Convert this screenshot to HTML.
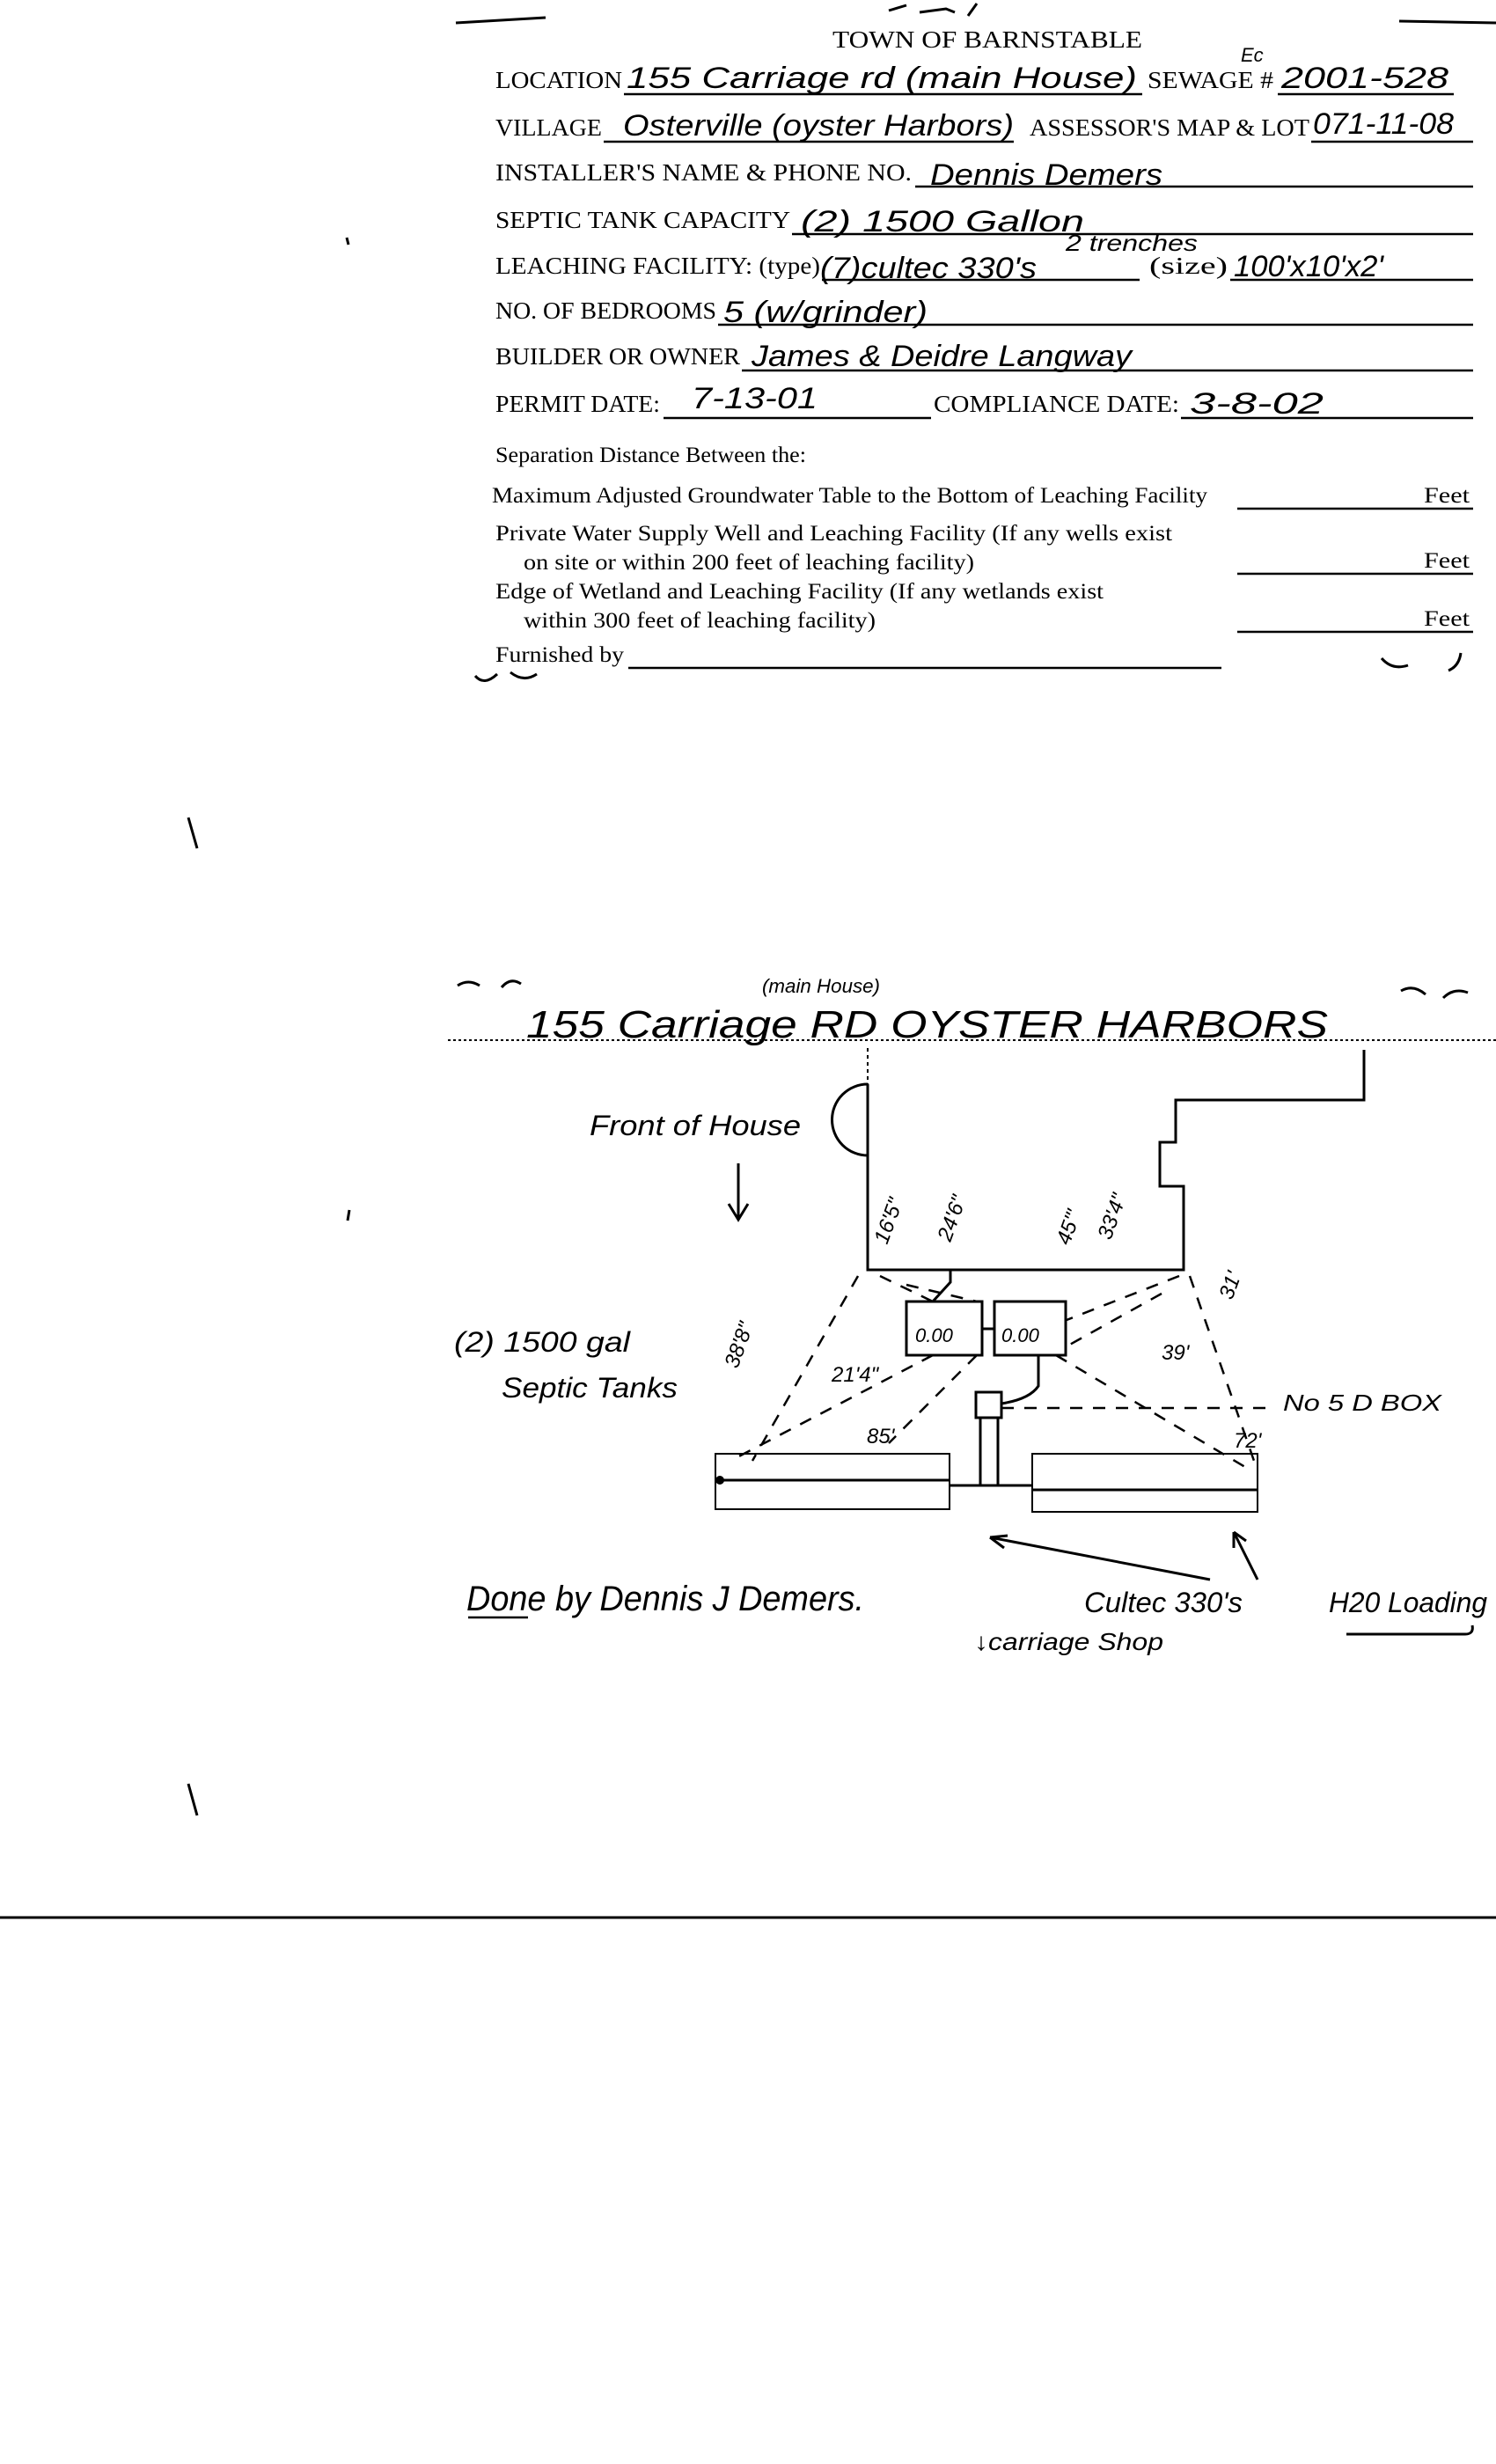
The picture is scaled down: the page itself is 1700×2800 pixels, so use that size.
<!DOCTYPE html>
<html><head><meta charset="utf-8"><style>
html,body{margin:0;padding:0;background:#fff;}
svg{display:block;}
.l{font-family:"Liberation Serif",serif;font-size:27px;fill:#000;}
.s{font-family:"Liberation Serif",serif;font-size:25px;fill:#000;}
.h{font-family:"Liberation Sans",sans-serif;font-style:italic;fill:#000;}
</style></head><body>
<svg width="1700" height="2800" viewBox="0 0 1700 2800" xmlns="http://www.w3.org/2000/svg">
<g stroke="#000" stroke-width="3" fill="none">
<path d="M518 26 L620 20"/><path d="M1590 24 L1700 26"/>
<path d="M1010 12 l20 -6 M1045 14 l30 -4 l10 4 M1100 18 l10 -14"/>
<path d="M394 270 l2 8 M214 929 l10 35 M214 2027 l10 36 M397 1375 l-2 12"/>
</g>
<text class="l" x="946" y="54" textLength="352" lengthAdjust="spacingAndGlyphs">TOWN OF BARNSTABLE</text>
<g class="l">
<text x="563" y="100" textLength="144" lengthAdjust="spacingAndGlyphs">LOCATION</text>
<text x="1304" y="100" textLength="143" lengthAdjust="spacingAndGlyphs">SEWAGE #</text>
<text x="563" y="154" textLength="121" lengthAdjust="spacingAndGlyphs">VILLAGE</text>
<text x="1170" y="154" textLength="318" lengthAdjust="spacingAndGlyphs">ASSESSOR'S MAP &amp; LOT</text>
<text x="563" y="205" textLength="473" lengthAdjust="spacingAndGlyphs">INSTALLER'S NAME &amp; PHONE NO.</text>
<text x="563" y="259" textLength="335" lengthAdjust="spacingAndGlyphs">SEPTIC TANK CAPACITY</text>
<text x="563" y="311" textLength="369" lengthAdjust="spacingAndGlyphs">LEACHING FACILITY: (type)</text>
<text x="1306" y="311" textLength="89" lengthAdjust="spacingAndGlyphs">(size)</text>
<text x="563" y="362" textLength="251" lengthAdjust="spacingAndGlyphs">NO. OF BEDROOMS</text>
<text x="563" y="414" textLength="278" lengthAdjust="spacingAndGlyphs">BUILDER OR OWNER</text>
<text x="563" y="468" textLength="187" lengthAdjust="spacingAndGlyphs">PERMIT DATE:</text>
<text x="1061" y="468" textLength="279" lengthAdjust="spacingAndGlyphs">COMPLIANCE DATE:</text>
</g>
<g stroke="#000" stroke-width="2.5">
<path d="M709 107 H1298 M1452 107 H1652 M686 161 H1152 M1490 161 H1674 M1040 212 H1674 M900 266 H1674 M934 318 H1295 M1398 318 H1674 M816 369 H1674 M843 421 H1674 M754 475 H1058 M1342 475 H1674"/>
<path d="M1406 578 H1674 M1406 652 H1674 M1406 718 H1674 M714 759 H1388"/>
</g>
<g class="s">
<text x="563" y="525" textLength="353" lengthAdjust="spacingAndGlyphs">Separation Distance Between the:</text>
<text x="559" y="571" textLength="813" lengthAdjust="spacingAndGlyphs">Maximum Adjusted Groundwater Table to the Bottom of Leaching Facility</text>
<text x="563" y="614" textLength="769" lengthAdjust="spacingAndGlyphs">Private Water Supply Well and Leaching Facility  (If any wells exist</text>
<text x="595" y="647" textLength="512" lengthAdjust="spacingAndGlyphs">on site or within 200 feet of leaching facility)</text>
<text x="563" y="680" textLength="691" lengthAdjust="spacingAndGlyphs">Edge of Wetland and Leaching Facility (If any wetlands exist</text>
<text x="595" y="713" textLength="400" lengthAdjust="spacingAndGlyphs">within 300 feet of leaching facility)</text>
<text x="563" y="752" textLength="146" lengthAdjust="spacingAndGlyphs">Furnished by</text>
<text x="1618" y="571" textLength="52" lengthAdjust="spacingAndGlyphs">Feet</text>
<text x="1618" y="645" textLength="52" lengthAdjust="spacingAndGlyphs">Feet</text>
<text x="1618" y="711" textLength="52" lengthAdjust="spacingAndGlyphs">Feet</text>
</g>
<g stroke="#000" stroke-width="3" fill="none">
<path d="M540 768 q10 12 25 -2 M580 764 q15 12 30 2 M1570 748 q12 14 30 8 M1660 742 q-2 15 -14 20"/>
</g>
<!-- handwriting form -->
<g class="h" font-size="34">
<text x="712" y="100" textLength="580" lengthAdjust="spacingAndGlyphs">155 Carriage rd (main House)</text>
<text x="1456" y="100" textLength="190" lengthAdjust="spacingAndGlyphs">2001-528</text>
<text x="1410" y="70" font-size="22">Ec</text>
<text x="708" y="154" textLength="444" lengthAdjust="spacingAndGlyphs">Osterville (oyster Harbors)</text>
<text x="1492" y="152" textLength="160" lengthAdjust="spacingAndGlyphs">071-11-08</text>
<text x="1057" y="210" textLength="264" lengthAdjust="spacingAndGlyphs">Dennis Demers</text>
<text x="910" y="263" textLength="322" lengthAdjust="spacingAndGlyphs">(2)  1500 Gallon</text>
<text x="932" y="316" textLength="246" lengthAdjust="spacingAndGlyphs">(7)cultec 330's</text>
<text x="1211" y="285" font-size="26" textLength="150" lengthAdjust="spacingAndGlyphs">2 trenches</text>
<text x="1402" y="314" textLength="170" lengthAdjust="spacingAndGlyphs">100'x10'x2'</text>
<text x="822" y="366" textLength="232" lengthAdjust="spacingAndGlyphs">5 (w/grinder)</text>
<text x="854" y="416" textLength="432" lengthAdjust="spacingAndGlyphs">James &amp; Deidre Langway</text>
<text x="786" y="464" textLength="143" lengthAdjust="spacingAndGlyphs">7-13-01</text>
<text x="1352" y="470" textLength="152" lengthAdjust="spacingAndGlyphs">3-8-02</text>
</g>
<!-- diagram -->
<g stroke="#000" stroke-width="3" fill="none">
<path d="M520 1120 q12 -8 25 0 M570 1122 q10 -12 22 -4 M1592 1126 q14 -8 28 4 M1640 1134 q12 -12 28 -6"/>
</g>
<path d="M509 1182 H1700" stroke="#000" stroke-width="2" stroke-dasharray="3 3"/>
<text class="h" x="866" y="1128" font-size="22" textLength="134" lengthAdjust="spacingAndGlyphs">(main House)</text>
<text class="h" x="598" y="1179" font-size="44" textLength="911" lengthAdjust="spacingAndGlyphs">155 Carriage RD  OYSTER   HARBORS</text>
<g stroke="#000" stroke-width="3" fill="none">
<path d="M986 1191 V1232" stroke-dasharray="4 4" stroke-width="2"/>
<path d="M986 1232 V1443 H1345 V1348 H1318 V1298 H1336 V1250 H1550 V1193"/>
<path d="M986 1232 A40 40 0 0 0 986 1313"/>
<path d="M839 1322 V1384 M828 1368 L839 1386 L850 1368"/>
<rect x="1030" y="1479" width="86" height="61"/>
<rect x="1130" y="1479" width="81" height="61"/>
<path d="M1116 1510 H1130"/>
<path d="M1060 1479 l20 -22 V1443"/>
<path d="M1180 1540 V1575 q-10 15 -42 20"/>
<rect x="1109" y="1582" width="29" height="29"/>
<path d="M1114 1611 V1688 M1134 1611 V1688"/>
<rect x="813" y="1652" width="266" height="63" stroke-width="2"/>
<path d="M818 1682 H1079"/>
<rect x="1173" y="1652" width="256" height="66" stroke-width="2"/>
<path d="M1173 1693 H1429"/>
<path d="M1079 1688 H1173"/>
<path d="M1375 1795 L1125 1747 M1125 1747 l16 12 M1125 1747 l20 -2"/>
<path d="M1429 1795 L1402 1741 M1402 1741 l0 18 M1402 1741 l14 10"/>
<path d="M1530 1857 H1665 q10 0 8 -10"/>
</g>
<circle cx="818" cy="1682" r="5" fill="#000"/>
<g stroke="#000" stroke-width="2.5" fill="none" stroke-dasharray="14 12">
<path d="M975 1450 L855 1660"/><path d="M1352 1450 L1425 1660"/>
<path d="M1000 1450 L1060 1479"/><path d="M1030 1460 L1110 1479"/>
<path d="M1340 1450 L1212 1500"/><path d="M1320 1470 L1212 1530"/>
<path d="M1060 1540 L830 1660"/><path d="M1200 1540 L1420 1670"/>
<path d="M1138 1600 H1450"/><path d="M1110 1540 L1010 1640"/>
</g>
<g class="h" font-size="24">
<text x="1008" y="1415" transform="rotate(-70 1008 1415)">16'5"</text>
<text x="1080" y="1412" transform="rotate(-70 1080 1412)">24'6"</text>
<text x="1215" y="1416" transform="rotate(-70 1215 1416)">45'"</text>
<text x="1262" y="1410" transform="rotate(-70 1262 1410)">33'4"</text>
<text x="1400" y="1478" transform="rotate(-70 1400 1478)">31'</text>
<text x="838" y="1556" transform="rotate(-70 838 1556)">38'8"</text>
<text x="945" y="1570">21'4"</text>
<text x="1320" y="1545">39'</text>
<text x="985" y="1640">85'</text>
<text x="1402" y="1645">72'</text>
<text x="1458" y="1603" font-size="26" textLength="180" lengthAdjust="spacingAndGlyphs">No 5 D BOX</text>
<text x="1040" y="1525" font-size="22">0.00</text>
<text x="1138" y="1525" font-size="22">0.00</text>
</g>
<g class="h" font-size="32">
<text x="670" y="1290" textLength="240" lengthAdjust="spacingAndGlyphs">Front of House</text>
<text x="516" y="1536" textLength="200" lengthAdjust="spacingAndGlyphs">(2)  1500 gal</text>
<text x="570" y="1588" textLength="200" lengthAdjust="spacingAndGlyphs">Septic Tanks</text>
<text x="530" y="1830" font-size="40" textLength="452" lengthAdjust="spacingAndGlyphs">Done by Dennis J Demers.</text>
<text x="1232" y="1832" textLength="180" lengthAdjust="spacingAndGlyphs">Cultec 330's</text>
<text x="1510" y="1832" textLength="180" lengthAdjust="spacingAndGlyphs">H20 Loading</text>
<text x="1107" y="1875" font-size="28" textLength="215" lengthAdjust="spacingAndGlyphs">↓carriage Shop</text>
</g>
<path d="M532 1838 H600" stroke="#000" stroke-width="2.5"/>
<path d="M0 2179 H1700" stroke="#000" stroke-width="3"/>
</svg>
</body></html>
